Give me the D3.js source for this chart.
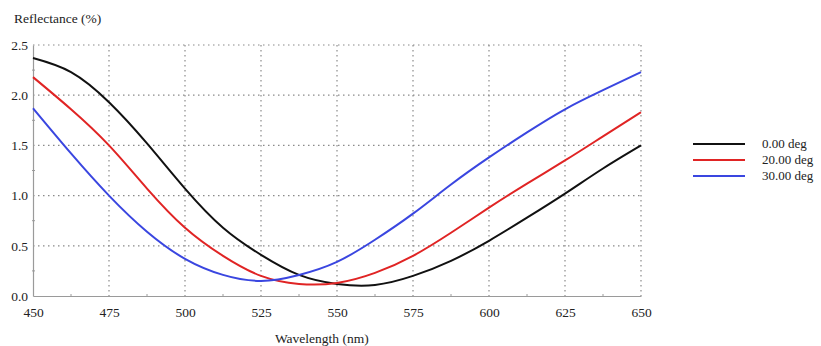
<!DOCTYPE html>
<html>
<head>
<meta charset="utf-8">
<script src="https://cdn.jsdelivr.net/npm/d3@7"></script>
<style>
  body { margin: 0; background: #fff; }
  svg text { font-family: "Liberation Serif", "Times New Roman", serif; fill: #222; }
</style>
</head>
<body>
<svg width="821" height="346"></svg>
<script>
// wavelength samples (nm)
const wavelengths = [450, 462.5, 475, 487.5, 500, 512.5, 525, 537.5, 550, 562.5, 575, 587.5, 600, 612.5, 625, 637.5, 650];
// reflectance (%) per incidence angle
const deg0  = [2.37, 2.23, 1.93, 1.52, 1.07, 0.68, 0.41, 0.21, 0.12, 0.11, 0.20, 0.35, 0.55, 0.78, 1.02, 1.27, 1.50];
const deg20 = [2.18, 1.86, 1.50, 1.07, 0.68, 0.40, 0.20, 0.12, 0.13, 0.23, 0.40, 0.63, 0.88, 1.12, 1.35, 1.59, 1.83];
const deg30 = [1.87, 1.42, 1.00, 0.64, 0.37, 0.21, 0.15, 0.21, 0.34, 0.56, 0.82, 1.11, 1.38, 1.63, 1.86, 2.05, 2.23];
const seriesNames = ["0.00 deg", "20.00 deg", "30.00 deg"];
const colors = ["#111111", "#e02424", "#3a46e0"];
const xTicks = [450, 475, 500, 525, 550, 575, 600, 625, 650];
const yTicks = [0.0, 0.5, 1.0, 1.5, 2.0, 2.5];

const svg = d3.select("svg");
const margin = {left: 33, right: 180, top: 45, bottom: 50};
const width = 641 - margin.left,
      height = 296 - margin.top;

const x = d3.scaleLinear().domain([450, 650]).range([0, width]);
const y = d3.scaleLinear().domain([0, 2.5]).range([height, 0]);

const g = svg.append("g").attr("transform", "translate(" + margin.left + "," + margin.top + ")");

// dotted grid
g.append("g").selectAll("line").data(xTicks.slice(1)).enter().append("line")
  .attr("x1", d => x(d)).attr("x2", d => x(d))
  .attr("y1", 0).attr("y2", height)
  .attr("stroke", "#8a8a8a").attr("stroke-width", 1.2).attr("stroke-dasharray", "1.5,3.5");
g.append("g").selectAll("line").data(yTicks.slice(1)).enter().append("line")
  .attr("x1", 0).attr("x2", width)
  .attr("y1", d => y(d)).attr("y2", d => y(d))
  .attr("stroke", "#8a8a8a").attr("stroke-width", 1.2).attr("stroke-dasharray", "1.5,3.5");

// axes
const xAxis = g.append("g").attr("transform", "translate(0," + height + ")")
  .call(d3.axisBottom(x).tickValues(xTicks).tickSize(0).tickPadding(11).tickFormat(d3.format("d")));
const yAxis = g.append("g")
  .call(d3.axisLeft(y).tickValues(yTicks).tickSize(0).tickPadding(5).tickFormat(d3.format(".1f")));
[xAxis, yAxis].forEach(a => {
  a.select(".domain").attr("stroke", "#9a9a9a").attr("stroke-width", 1.2);
  a.selectAll("text").attr("font-size", 13.5).attr("fill", "#222")
    .style("font-family", "'Liberation Serif', serif");
});

// minor ticks
g.append("g").selectAll("line").data(d3.range(462.5, 650, 25)).enter().append("line")
  .attr("x1", d => x(d)).attr("x2", d => x(d))
  .attr("y1", height - 2).attr("y2", height + 1)
  .attr("stroke", "#9a9a9a");
g.append("g").selectAll("line").data(d3.range(0.25, 2.5, 0.5)).enter().append("line")
  .attr("x1", -1).attr("x2", 2)
  .attr("y1", d => y(d)).attr("y2", d => y(d))
  .attr("stroke", "#9a9a9a");

// curves
const series = [deg0, deg20, deg30];
const line = d3.line()
  .x((d, i) => x(wavelengths[i]))
  .y(d => y(d))
  .curve(d3.curveNatural);
g.selectAll(".curve").data(series).enter().append("path")
  .attr("class", "curve")
  .attr("d", line)
  .attr("fill", "none")
  .attr("stroke", (d, i) => colors[i])
  .attr("stroke-width", 2);

// axis titles
svg.append("text").attr("x", 14).attr("y", 23).attr("font-size", 13.5).text("Reflectance (%)");
svg.append("text").attr("x", margin.left + x(545)).attr("y", 343)
  .attr("text-anchor", "middle").attr("font-size", 13.5).text("Wavelength (nm)");

// legend
const legend = svg.append("g").attr("transform", "translate(693,144)");
seriesNames.forEach((name, i) => {
  const row = legend.append("g").attr("transform", "translate(0," + i * 16 + ")");
  row.append("line").attr("x1", 0).attr("x2", 52).attr("y1", 0).attr("y2", 0)
    .attr("stroke", colors[i]).attr("stroke-width", 2);
  row.append("text").attr("x", 69).attr("y", 4).attr("font-size", 13).text(name);
});
</script>
</body>
</html>
